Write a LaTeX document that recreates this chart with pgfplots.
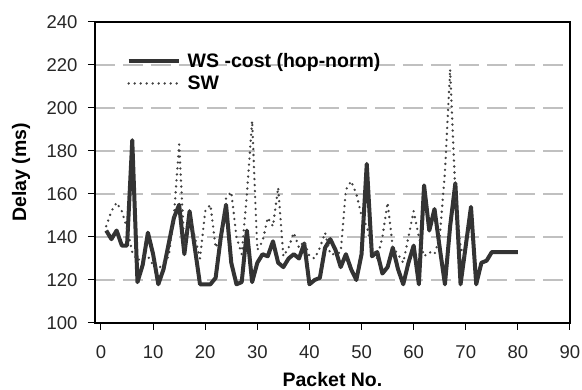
\documentclass[border=0pt]{standalone}
\usepackage{fontspec}
\setmainfont{Liberation Sans}
\usepackage{pgfplots}
\pgfplotsset{compat=1.18}
\definecolor{wsline}{HTML}{333333}
\definecolor{swline}{HTML}{404040}
\definecolor{gridgray}{HTML}{C0C0C0}
\begin{document}
\begin{tikzpicture}
\begin{axis}[
  scale only axis, width=475pt, height=301pt,
  at={(0,0)}, anchor=south west,
  xmin=-1.15, xmax=90, ymin=100, ymax=240,
  xtick={0,10,...,90}, ytick={100,120,...,240},
  xtick pos=left, ytick pos=left,
  tick align=outside, major tick length=7pt,
  axis line style={line width=1.3pt, black},
  every tick/.style={black, line width=1pt},
  ymajorgrids,
  major grid style={gridgray, line width=1.2pt, dash pattern=on 20pt off 8pt},
  /pgf/number format/assume math mode=true,
  ticklabel style={font=\fontsize{18.5}{21}\selectfont, text=black!85},
  xticklabel style={yshift=-12pt},
  yticklabel style={xshift=-7pt},
  xlabel={Packet No.}, ylabel={Delay (ms)},
  every axis x label/.style={at={(rel axis cs:0.5,0)}, yshift=-57pt, anchor=center, font=\fontsize{19.5}{22}\selectfont\bfseries},
  every axis y label/.style={at={(rel axis cs:0,0.5)}, xshift=-74pt, rotate=90, anchor=center, font=\fontsize{19.5}{22}\selectfont\bfseries},
  legend style={draw=none, fill=none, at={(0.06,0.91)}, anchor=north west,
    font=\fontsize{19.5}{22}\selectfont\bfseries, row sep=3pt,
    /tikz/every odd column/.append style={column sep=5pt}},
  legend cell align=left,
  legend image code/.code={\draw[#1] (0pt,0pt) -- (50pt,0pt);},
  clip=false,
]
\addplot[wsline, line width=4pt, line join=round] coordinates {
(1,143) (2,139) (3,143) (4,136) (5,136) (6,185) (7,119) (8,127) (9,142) (10,132)
(11,118) (12,125) (13,137) (14,149) (15,155) (16,132) (17,152) (18,135) (19,118) (20,118)
(21,118) (22,121) (23,140) (24,155) (25,128) (26,118) (27,119) (28,143) (29,119) (30,128)
(31,132) (32,131) (33,138) (34,128) (35,126) (36,130) (37,132) (38,130) (39,137) (40,118)
(41,120) (42,121) (43,135) (44,139) (45,134) (46,126) (47,132) (48,125) (49,120) (50,132)
(51,174) (52,131) (53,133) (54,123) (55,126) (56,135) (57,125) (58,118) (59,128) (60,136)
(61,118) (62,164) (63,143) (64,153) (65,135) (66,118) (67,145) (68,165) (69,118) (70,136)
(71,154) (72,118) (73,128) (74,129) (75,133) (76,133) (77,133) (78,133) (79,133) (80,133)
};
\addlegendentry{WS -cost (hop-norm)}
\addplot[swline, line width=2.6pt, line cap=round, dash pattern=on 0pt off 6pt] coordinates {
(1,145) (2,152) (3,156) (4,152) (5,144) (6,133) (7,129) (8,131) (9,131) (10,127)
(11,125) (12,128) (13,131) (14,150) (15,183) (16,135) (17,150) (18,140) (19,130) (20,152)
(21,155) (22,135) (23,140) (24,158) (25,161) (26,140) (27,132) (28,160) (29,194) (30,134)
(31,138) (32,149) (33,145) (34,163) (35,131) (36,135) (37,142) (38,135) (39,138) (40,131)
(41,130) (42,135) (43,142) (44,132) (45,132) (46,133) (47,162) (48,166) (49,160) (50,150)
(51,145) (52,135) (53,130) (54,140) (55,156) (56,135) (57,132) (58,128) (59,140) (60,152)
(61,140) (62,131) (63,133) (64,132) (65,140) (66,170) (67,218) (68,160) (69,135) (70,130)
};
\addlegendentry{SW}
\end{axis}
\pgfresetboundingbox
\useasboundingbox (-95pt,-67pt) rectangle (487pt,323pt);
\end{tikzpicture}
\end{document}
